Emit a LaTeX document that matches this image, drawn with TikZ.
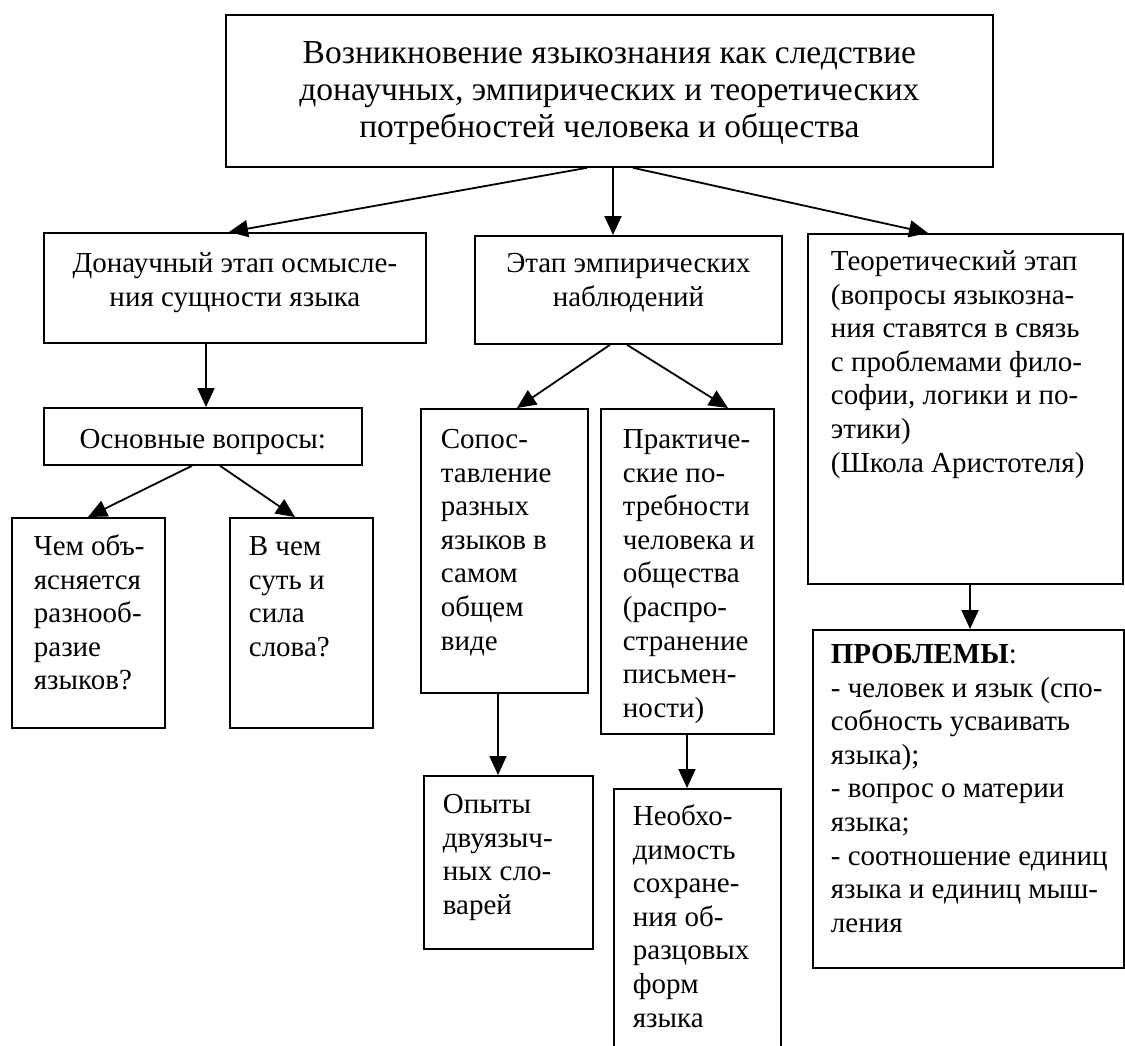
\documentclass[tikz,border=0pt]{standalone}
\usepackage{fontspec}
\setmainfont{Liberation Serif}
\usetikzlibrary{arrows.meta}
% box text: width, height, top pad, left pad, text
\newcommand{\ltext}[5]{\parbox[t][#2][t]{#1}{\vspace*{#3}\raggedright\leftskip=#4\relax\strut#5}}
% centred box text: width, height, top pad, text
\newcommand{\ctext}[4]{\parbox[t][#2][t]{#1}{\vspace*{#3}\centering\strut#4}}

\begin{document}
\begin{tikzpicture}[line join=miter,
        stagebox/.style={draw=black, line width=1.8pt, inner sep=0pt, anchor=north west},
        stagearrow/.style={-{Triangle[length=19pt, width=17pt]}, line width=1.8pt},
        every node/.style={font=\fontsize{29}{33.6}\selectfont}]
    \useasboundingbox (0pt, 0pt) rectangle (1125pt, -1046pt);
    % Top
    \node[stagebox, font=\fontsize{33.5}{37}\selectfont] (origin) at (225pt, -14pt)
        {\ctext{767pt}{152pt}{23pt}{Возникновение языкознания как следствие\\донаучных, эмпирических и теоретических\\потребностей человека и общества}};
    % Stages
    \node[stagebox] (prescience) at (43pt, -232pt)
        {\ctext{382pt}{110pt}{16pt}{Донаучный этап осмысле-\\ния сущности языка}};
    \node[stagebox] (empirical) at (474pt, -235pt)
        {\ctext{307pt}{108pt}{13pt}{Этап эмпирических\\наблюдений}};
    \node[stagebox] (theoretical) at (807pt, -233pt)
        {\ltext{315pt}{350pt}{13pt}{23pt}{Теоретический этап\\(вопросы языкозна-\\ния ставятся в связь\\с проблемами фило-\\софии, логики и по-\\этики)\\(Школа Аристотеля)}};
    % Pre-scientific stage
    \node[stagebox] (questions) at (43pt, -407pt)
        {\ctext{318pt}{57pt}{17pt}{Основные вопросы:}};
    \node[stagebox] (variety) at (11pt, -517pt)
        {\ltext{153pt}{210pt}{14pt}{22pt}{Чем объ-\\ясняется\\разнооб-\\разие\\языков?}};
    \node[stagebox] (wordpower) at (229pt, -517pt)
        {\ltext{143pt}{210pt}{14pt}{19pt}{В чем\\суть и\\сила\\слова?}};
    % Empirical stage
    \node[stagebox] (comparison) at (420pt, -408pt)
        {\ltext{167pt}{284pt}{16pt}{20pt}{Сопос-\\тавление\\разных\\языков в\\самом\\общем\\виде}};
    \node[stagebox] (practical) at (600pt, -408pt)
        {\ltext{173pt}{325pt}{16pt}{22pt}{Практиче-\\ские по-\\требности\\человека и\\общества\\(распро-\\странение\\письмен-\\ности)}};
    \node[stagebox] (dictionaries) at (423pt, -775pt)
        {\ltext{169pt}{173pt}{14pt}{19pt}{Опыты\\двуязыч-\\ных сло-\\варей}};
    \node[stagebox] (preservation) at (613pt, -788pt)
        {\ltext{167pt}{266pt}{13pt}{19pt}{Необхо-\\димость\\сохране-\\ния об-\\разцовых\\форм\\языка}};
    % Theoretical stage
    \node[stagebox] (problems) at (812pt, -629pt)
        {\ltext{311pt}{338pt}{10pt}{18pt}{\textbf{ПРОБЛЕМЫ}:\\- человек и язык (спо-\\собность усваивать\\языка);\\- вопрос о материи\\языка;\\- соотношение единиц\\языка и единиц мыш-\\ления}};

    % Arrows
    \draw[stagearrow] ([xshift=362pt]origin.south west) -- ([xshift=186pt]prescience.north west);
    \draw[stagearrow] ([xshift=388pt]origin.south west) -- ([xshift=139pt]empirical.north west);
    \draw[stagearrow] ([xshift=408pt]origin.south west) -- ([xshift=121pt]theoretical.north west);
    \draw[stagearrow] ([xshift=163pt]prescience.south west) -- ([xshift=163pt]questions.north west);
    \draw[stagearrow] ([xshift=149pt]questions.south west) -- ([xshift=77pt]variety.north west);
    \draw[stagearrow] ([xshift=177pt]questions.south west) -- ([xshift=66pt]wordpower.north west);
    \draw[stagearrow] ([xshift=136pt]empirical.south west) -- ([xshift=97pt]comparison.north west);
    \draw[stagearrow] ([xshift=153pt]empirical.south west) -- ([xshift=128pt]practical.north west);
    \draw[stagearrow] ([xshift=78pt]comparison.south west) -- ([xshift=75pt]dictionaries.north west);
    \draw[stagearrow] ([xshift=87pt]practical.south west) -- ([xshift=74pt]preservation.north west);
    \draw[stagearrow] ([xshift=163pt]theoretical.south west) -- ([xshift=158pt]problems.north west);
\end{tikzpicture}
\end{document}
